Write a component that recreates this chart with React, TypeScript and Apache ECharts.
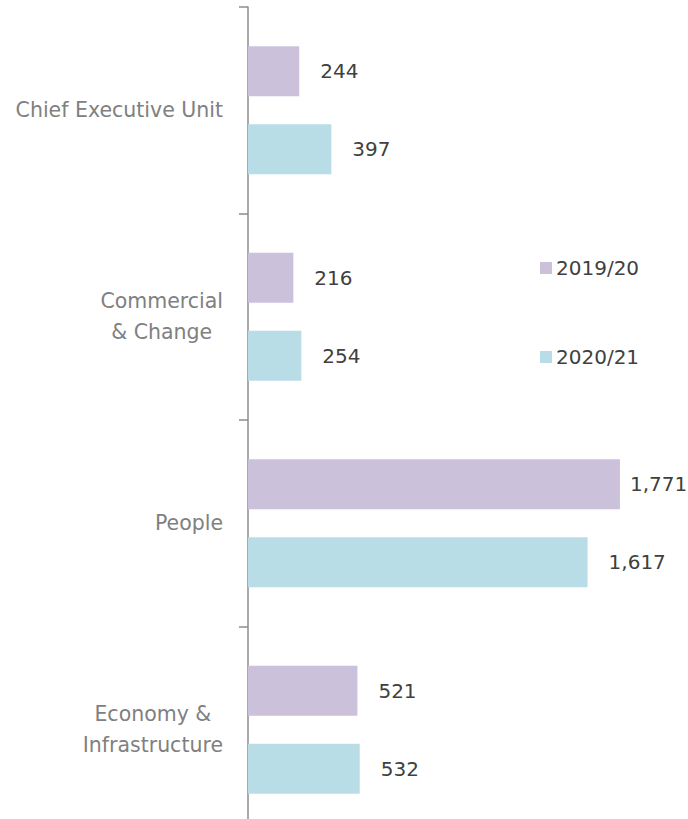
import React, { useEffect, useRef } from "react";
import * as echarts from "echarts";

const categories = ["Chief Executive Unit", "Commercial\n& Change", "People", "Economy &\nInfrastructure"];
const series2019 = [244, 216, 1771, 521];
const series2020 = [397, 254, 1617, 532];
const seriesNames = ["2019/20", "2020/21"];

export default function App() {
  const ref = useRef<HTMLDivElement>(null);
  useEffect(() => {
    if (!ref.current) return;
    const chart = echarts.init(ref.current, null, { renderer: "svg" });
    const font = "'DejaVu Sans', sans-serif";
    const labelStyle = {
      show: true,
      position: "right",
      distance: 21,
      color: "#404040",
      fontSize: 20,
      fontFamily: font,
      formatter: (p: any) => Number(p.value).toLocaleString("en-US"),
    };
    // the longest bar's label sits closer to the bar so it fits in the frame
    const maxVal = Math.max(...series2019, ...series2020);
    const toData = (arr: number[]) =>
      arr.map((v) => (v === maxVal ? { value: v, label: { distance: 10 } } : v));
    chart.setOption({
      animation: false,
      backgroundColor: "#ffffff",
      grid: { left: 248, top: 7, width: 420, height: 826, containLabel: false },
      legend: {
        orient: "vertical",
        left: 535,
        top: 253,
        itemWidth: 12,
        itemHeight: 12,
        itemGap: 69,
        icon: "rect",
        textStyle: { color: "#404040", fontSize: 20, fontFamily: font, lineHeight: 20, padding: [0, 0, 0, -1] },
        data: seriesNames,
      },
      xAxis: {
        type: "value",
        min: 0,
        max: 2000,
        show: false,
        splitLine: { show: false },
      },
      yAxis: {
        type: "category",
        inverse: true,
        data: categories,
        axisLine: { show: true, lineStyle: { color: "#8c8c8c", width: 1.5 } },
        axisTick: { show: true, length: 9, lineStyle: { color: "#8c8c8c", width: 1.5 } },
        axisLabel: {
          margin: 25,
          color: "#808080",
          fontSize: 20.5,
          fontFamily: font,
          lineHeight: 31,
          formatter: (v: string) =>
            v
              .split("\n")
              .map((s) => `{a|${s}}`)
              .join("\n"),
          rich: { a: { align: "center", color: "#808080", fontSize: 20.5, fontFamily: font, lineHeight: 31 } },
        },
      },
      series: [
        {
          name: seriesNames[0],
          type: "bar",
          data: toData(series2019),
          barWidth: 50,
          barGap: "56%",
          itemStyle: { color: "#cbc1db" },
          label: labelStyle,
        },
        {
          name: seriesNames[1],
          type: "bar",
          data: toData(series2020),
          barWidth: 50,
          itemStyle: { color: "#b8dde6" },
          label: labelStyle,
        },
      ],
    });
    return () => chart.dispose();
  }, []);
  return (
    <div
      ref={ref}
      style={{ position: "fixed", left: 0, top: 0, width: 688, height: 850 }}
    />
  );
}
